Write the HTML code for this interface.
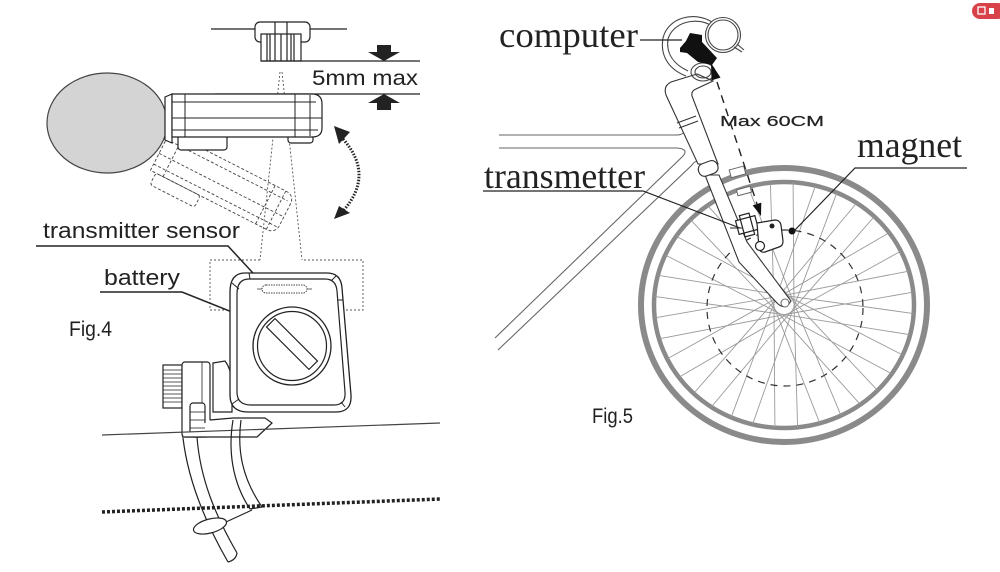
<!DOCTYPE html>
<html><head><meta charset="utf-8"><style>
html,body{margin:0;padding:0;background:#fff;}
svg{display:block;}
.sans{font-family:"Liberation Sans",Arial,sans-serif;}
.serif{font-family:"Liberation Serif","Times New Roman",serif;}
</style></head><body>
<svg width="1000" height="572" viewBox="0 0 1000 572" xmlns="http://www.w3.org/2000/svg">
<rect width="1000" height="572" fill="#fff"/>

<!-- ================= FIG 4 ================= -->
<g stroke="#222" stroke-width="1.2" fill="none">
  <line x1="211" y1="29" x2="255" y2="29"/>
  <line x1="310" y1="29" x2="347" y2="29"/>
  <rect x="255" y="22" width="55" height="20" rx="5"/>
  <line x1="275" y1="22" x2="275" y2="34"/>
  <line x1="287" y1="22" x2="287" y2="34"/>
  <rect x="261" y="34" width="40" height="27" fill="#fff"/>
  <line x1="267" y1="34" x2="267" y2="61"/>
  <line x1="270" y1="34" x2="270" y2="61"/>
  <line x1="275" y1="34" x2="275" y2="61"/>
  <line x1="281" y1="34" x2="281" y2="61"/>
  <line x1="287" y1="34" x2="287" y2="61"/>
  <line x1="291" y1="34" x2="291" y2="61"/>
  <line x1="294" y1="34" x2="294" y2="61"/>
  <line x1="261" y1="61" x2="420" y2="61"/>
  <line x1="215" y1="94" x2="420" y2="94"/>
</g>
<polygon points="377,45 391,45 391,52 400,52 384,61 368,52 377,52" fill="#222"/>
<polygon points="384,94 400,103 391,103 391,110 377,110 377,103 368,103" fill="#222"/>
<text x="312" y="85" class="sans" font-size="21" fill="#222" textLength="106" lengthAdjust="spacingAndGlyphs">5mm max</text>

<g stroke="#555" stroke-width="0.9" fill="none" stroke-dasharray="2,2">
  <line x1="280" y1="72" x2="260" y2="260"/>
  <line x1="282" y1="72" x2="302" y2="260"/>
  <polyline points="260,260 210,260 210,310 363,310 363,260 302,260"/>
</g>

<g transform="translate(170,132) rotate(27)" stroke="#444" stroke-width="0.9" fill="none" stroke-dasharray="3,2">
  <path d="M0,0 L130,0 Q140,0 140,10 L140,33 Q140,43 130,43 L0,43 Z"/>
  <line x1="0" y1="8" x2="136" y2="8"/>
  <line x1="0" y1="24" x2="140" y2="24"/>
  <line x1="0" y1="36" x2="138" y2="36"/>
  <line x1="14" y1="0" x2="14" y2="43"/>
  <line x1="118" y1="0" x2="118" y2="43"/>
  <line x1="130" y1="0" x2="130" y2="43"/>
  <rect x="6" y="43" width="50" height="13" rx="3"/>
</g>

<ellipse cx="107" cy="123" rx="60" ry="50" fill="#d4d4d4" stroke="#444" stroke-width="1.2"/>

<g stroke="#222" stroke-width="1.2" fill="#fff">
  <path d="M165,97 L172,94 L172,143 L165,140 Z"/>
  <rect x="178" y="135" width="49" height="15" rx="3"/>
  <rect x="288" y="135" width="25" height="8" rx="3"/>
  <path d="M172,94 L312,94 Q322,94 322,104 L322,128 Q322,137 312,137 L172,137 Z"/>
</g>
<g stroke="#222" stroke-width="1" fill="none">
  <line x1="172" y1="102" x2="316" y2="102"/>
  <line x1="172" y1="118" x2="322" y2="118"/>
  <line x1="172" y1="130" x2="318" y2="130"/>
  <line x1="185" y1="94" x2="185" y2="137"/>
  <line x1="295" y1="94" x2="295" y2="137"/>
  <line x1="310" y1="95" x2="310" y2="136"/>
</g>

<path d="M343,139 Q375,175 343,211" stroke="#222" stroke-width="3" fill="none" stroke-dasharray="1.5,1.5"/>
<polygon points="334,126 350,132 339,144" fill="#222"/>
<polygon points="334,219 339,206 350,213" fill="#222"/>

<text x="43" y="238" class="sans" font-size="22" fill="#222" textLength="197" lengthAdjust="spacingAndGlyphs">transmitter sensor</text>
<polyline points="36,246 228,246 265,286" stroke="#222" stroke-width="1.5" fill="none"/>
<text x="104" y="285" class="sans" font-size="22" fill="#222" textLength="76" lengthAdjust="spacingAndGlyphs">battery</text>
<polyline points="100,292 182,292 257,322" stroke="#222" stroke-width="1.5" fill="none"/>
<text x="69" y="336" class="sans" font-size="21" fill="#222" textLength="43" lengthAdjust="spacingAndGlyphs">Fig.4</text>

<g stroke="#222" stroke-width="1.2" fill="#fff">
  <rect x="163" y="365" width="19" height="43"/>
  <rect x="182" y="362" width="28" height="75" rx="3"/>
  <path d="M213,363 L225,361 Q232,370 232,386 L232,412 L213,412 Z"/>
  <rect x="190" y="403" width="15" height="34" rx="3"/>
  <path d="M182,437 L257,437 L272,423 L265,418 L233,418 L210,420"/>
</g>
<g stroke="#222" stroke-width="0.8">
  <line x1="163" y1="370" x2="182" y2="370"/><line x1="163" y1="374" x2="182" y2="374"/>
  <line x1="163" y1="378" x2="182" y2="378"/><line x1="163" y1="382" x2="182" y2="382"/>
  <line x1="163" y1="386" x2="182" y2="386"/><line x1="163" y1="390" x2="182" y2="390"/>
  <line x1="163" y1="394" x2="182" y2="394"/><line x1="163" y1="398" x2="182" y2="398"/>
  <line x1="163" y1="402" x2="182" y2="402"/>
  <line x1="190" y1="412" x2="205" y2="412"/><line x1="190" y1="420" x2="205" y2="420"/>
  <line x1="190" y1="428" x2="205" y2="428"/>
  <line x1="202" y1="362" x2="202" y2="403"/>
</g>
<path d="M245,273 L327,273 Q341,273 342,288 L351,395 Q352,412 336,412 L248,412 Q230,412 230,395 L230,292 Q230,273 245,273 Z" stroke="#222" stroke-width="1.3" fill="#fff"/>
<path d="M249,279 L325,279 Q336,279 337,291 L345,392 Q346,405 334,405 L251,405 Q237,405 237,392 L237,294 Q237,279 249,279 Z" stroke="#222" stroke-width="1.2" fill="none"/>
<g stroke="#222" stroke-width="1">
  <line x1="232" y1="283" x2="239" y2="289"/>
  <line x1="249" y1="273" x2="250" y2="279"/>
  <line x1="336" y1="276" x2="331" y2="281"/>
  <line x1="343" y1="300" x2="337" y2="300"/>
  <line x1="345" y1="407" x2="341" y2="402"/>
  <line x1="232" y1="404" x2="239" y2="399"/>
</g>
<rect x="262" y="285" width="45" height="8" rx="4" stroke="#444" stroke-width="1" fill="none" stroke-dasharray="1.5,1"/>
<line x1="257" y1="289" x2="262" y2="289" stroke="#444" stroke-width="0.8"/>
<line x1="307" y1="289" x2="312" y2="289" stroke="#444" stroke-width="0.8"/>
<circle cx="292" cy="346" r="39" stroke="#222" stroke-width="1.3" fill="#fff"/>
<circle cx="292" cy="346" r="34.5" stroke="#222" stroke-width="1.2" fill="none"/>
<rect x="262" y="338" width="60" height="12" transform="rotate(45 292 344)" stroke="#222" stroke-width="1.2" fill="none"/>

<line x1="102" y1="435" x2="440" y2="423" stroke="#444" stroke-width="1.2"/>
<line x1="102" y1="512" x2="440" y2="499" stroke="#222" stroke-width="3.5" stroke-dasharray="3,2"/>

<g stroke="#222" stroke-width="1.2" fill="none">
  <path d="M183,438 C188,480 205,522 228,562"/>
  <path d="M197,437 C200,478 215,515 237,553"/>
  <path d="M228,562 Q236,560 237,553"/>
  <path d="M233,420 C228,450 232,482 250,509"/>
  <path d="M241,420 C237,450 242,478 262,507"/>
  <path d="M250,509 L262,507"/>
  <ellipse cx="210" cy="526" rx="17" ry="7" transform="rotate(-15 210 526)" fill="#fff"/>
  <line x1="226" y1="522" x2="252" y2="510"/>
</g>

<!-- ================= FIG 5 ================= -->
<g stroke="#666" stroke-width="1.1" fill="none">
  <path d="M499,135 L677,135 Q683,135 686,130"/>
  <path d="M499,148 L677,148 Q690,149 682,157 L495,338"/>
  <path d="M700,163 Q696,159 692,165 L498,350"/>
</g>

<ellipse cx="784" cy="305" rx="143" ry="137" stroke="#8a8a8a" stroke-width="6" fill="none"/>
<ellipse cx="784" cy="305" rx="130" ry="123" stroke="#8a8a8a" stroke-width="4.5" fill="none"/>
<defs>
  <line id="sa" x1="10" y1="0" x2="13.6" y2="129" stroke="#9a9a9a" stroke-width="0.9" vector-effect="non-scaling-stroke"/>
  <line id="sb" x1="10" y1="0" x2="13.6" y2="-129" stroke="#9a9a9a" stroke-width="0.9" vector-effect="non-scaling-stroke"/>
</defs>
<g transform="translate(784,305) scale(1,0.946)">
  <use href="#sa" transform="rotate(0)"/><use href="#sa" transform="rotate(20)"/><use href="#sa" transform="rotate(40)"/>
  <use href="#sa" transform="rotate(60)"/><use href="#sa" transform="rotate(80)"/><use href="#sa" transform="rotate(100)"/>
  <use href="#sa" transform="rotate(120)"/><use href="#sa" transform="rotate(140)"/><use href="#sa" transform="rotate(160)"/>
  <use href="#sa" transform="rotate(180)"/><use href="#sa" transform="rotate(200)"/><use href="#sa" transform="rotate(220)"/>
  <use href="#sa" transform="rotate(240)"/><use href="#sa" transform="rotate(260)"/><use href="#sa" transform="rotate(280)"/>
  <use href="#sa" transform="rotate(300)"/><use href="#sa" transform="rotate(320)"/><use href="#sa" transform="rotate(340)"/>
  <use href="#sb" transform="rotate(18)"/><use href="#sb" transform="rotate(38)"/><use href="#sb" transform="rotate(58)"/>
  <use href="#sb" transform="rotate(78)"/><use href="#sb" transform="rotate(98)"/><use href="#sb" transform="rotate(118)"/>
  <use href="#sb" transform="rotate(138)"/><use href="#sb" transform="rotate(158)"/><use href="#sb" transform="rotate(178)"/>
  <use href="#sb" transform="rotate(198)"/><use href="#sb" transform="rotate(218)"/><use href="#sb" transform="rotate(238)"/>
  <use href="#sb" transform="rotate(258)"/><use href="#sb" transform="rotate(278)"/><use href="#sb" transform="rotate(298)"/>
  <use href="#sb" transform="rotate(318)"/><use href="#sb" transform="rotate(338)"/><use href="#sb" transform="rotate(358)"/>
</g>
<circle cx="785" cy="308" r="78" stroke="#333" stroke-width="1.2" fill="none" stroke-dasharray="7,6"/>

<g stroke="#666" stroke-width="1" fill="#fff">
  <rect x="730" y="168" width="15" height="8" transform="rotate(-15 737 172)"/>
  <rect x="737" y="188" width="14" height="6" transform="rotate(-15 744 191)"/>
</g>

<g stroke="#333" stroke-width="1.1" fill="#fff">
  <path d="M705,175 L739,262 L777,303 Q785,311 791,301 L747,242 L719,175 Z"/>
  <path d="M697,74 L671,82 Q663,86 666,95 L698,164 L718,164 L692,96 Q691,91 696,89 L713,81 Z"/>
  <rect x="698" y="162" width="20" height="13" rx="6" transform="rotate(-20 708 168)"/>
  <line x1="677" y1="123" x2="696" y2="116"/>
  <line x1="679" y1="128" x2="698" y2="121"/>
</g>
<circle cx="785" cy="303" r="4" stroke="#666" stroke-width="1" fill="#fff"/>

<g stroke="#444" stroke-width="1.1" fill="none">
  <path d="M712,22 C695,11 668,17 663,38 C660,55 668,69 686,76"/>
  <path d="M712,26 C697,16 673,22 668,39 C666,53 673,64 688,71"/>
  <circle cx="723" cy="35" r="17.5" fill="#fff"/>
  <circle cx="723" cy="35" r="15"/>
  <path d="M734,47 L742,52"/>
  <path d="M737,44 L744,50"/>
  <ellipse cx="703" cy="72" rx="12" ry="9"/>
  <ellipse cx="703" cy="72" rx="8" ry="6"/>
</g>
<polygon points="680,48 686,41 690,33 702,35 702,42 717,58 712,65 698,62 687,53 680,52" fill="#111"/>
<line x1="640" y1="40" x2="682" y2="40" stroke="#222" stroke-width="1.2"/>

<g stroke="#222" stroke-width="1.2" fill="#fff">
  <rect x="737" y="218" width="20" height="14" transform="rotate(-15 747 225)"/>
  <path d="M757,223 L775,220 Q780,220 781,225 L783,241 Q783,246 779,247 L765,252 Q760,253 759,248 Z"/>
  <rect x="742" y="214" width="10" height="22" transform="rotate(-15 747 225)" fill="none"/>
  <circle cx="760" cy="246" r="4.5"/>
</g>
<circle cx="772" cy="226" r="2.5" fill="#222"/>
<line x1="730" y1="228" x2="742" y2="228" stroke="#222" stroke-width="1"/>

<circle cx="792" cy="231" r="3.5" fill="#111"/>

<line x1="717" y1="82" x2="757" y2="204" stroke="#222" stroke-width="1.4" stroke-dasharray="8,6"/>
<polygon points="711,63 720.5,77.6 711.5,80.4" fill="#111"/>
<polygon points="761,216 761.3,202.6 752.7,205.4" fill="#111"/>
<text x="720" y="126" class="sans" font-size="15" fill="#222" stroke="#222" stroke-width="0.2" textLength="104" lengthAdjust="spacingAndGlyphs">Max 60CM</text>

<text x="499" y="47" class="serif" font-size="36" fill="#222" textLength="139" lengthAdjust="spacingAndGlyphs">computer</text>
<text x="484" y="188" class="serif" font-size="36" fill="#222" textLength="161" lengthAdjust="spacingAndGlyphs">transmetter</text>
<polyline points="483,191 643,191 740,228" stroke="#222" stroke-width="1.2" fill="none"/>
<text x="857" y="157" class="serif" font-size="36" fill="#222" textLength="105" lengthAdjust="spacingAndGlyphs">magnet</text>
<polyline points="967,168 855,168 794,231" stroke="#222" stroke-width="1.2" fill="none"/>
<text x="592" y="423" class="sans" font-size="21" fill="#222" textLength="41" lengthAdjust="spacingAndGlyphs">Fig.5</text>

<rect x="972" y="3" width="34" height="16" rx="8" fill="#d8434a"/>
<rect x="978" y="7" width="7" height="7" fill="none" stroke="#fff" stroke-width="1.3"/>
<rect x="989" y="8" width="5" height="6" fill="#fff"/>
</svg>
</body></html>
